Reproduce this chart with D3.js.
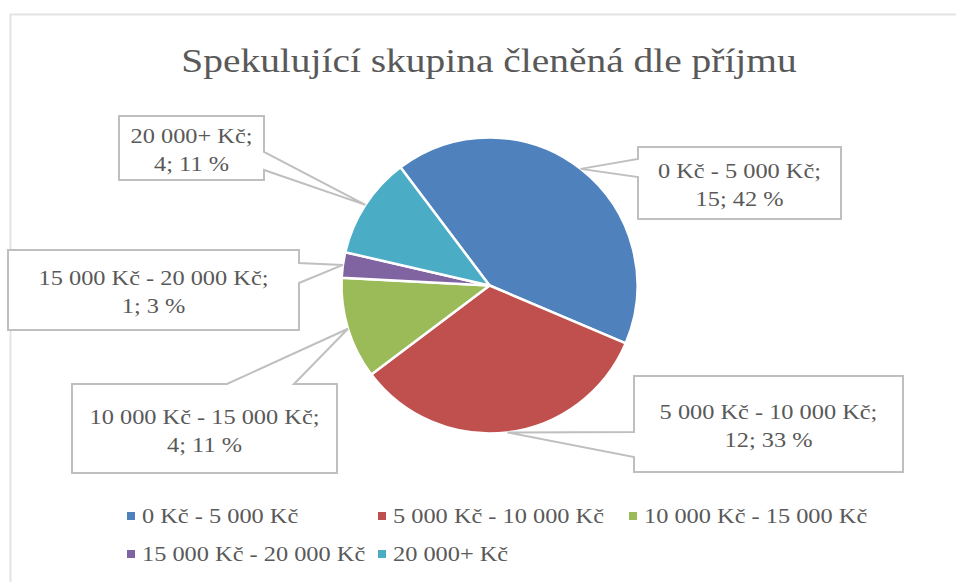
<!DOCTYPE html>
<meta charset="utf-8">
<style>
  body { margin: 0; background: #fff; }
  svg { display: block; }
  text { font-family: "Liberation Serif", serif; fill: #595959; }
  .title { font-size: 34px; text-anchor: middle; }
  .label { font-size: 21px; text-anchor: middle; }
  .legend text { font-size: 21px; }
</style>
<svg width="956" height="582"></svg>
<script src="https://cdn.jsdelivr.net/npm/d3@7"></script>
<script>
  // data
  var categories = ["0 Kč - 5 000 Kč", "5 000 Kč - 10 000 Kč", "10 000 Kč - 15 000 Kč",
    "15 000 Kč - 20 000 Kč", "20 000+ Kč"]
  var counts = [15, 12, 4, 1, 4]
  var colors = ["#4f81bd", "#c0504d", "#9bbb59", "#8064a2", "#4bacc6"]

  var svg = d3.select("svg"),
    width = +svg.attr("width"),
    height = +svg.attr("height")

  // Cambria runs wider than Liberation Serif, so stretch text horizontally
  var sx = 1.16
  function place(x, y) { return "translate(" + x + "," + y + ") scale(" + sx + ",1)" }

  // chart frame
  svg.append("path")
    .attr("d", "M10.5," + height + "V14.5H" + width)
    .attr("fill", "none")
    .attr("stroke", "#e3e3e3")
    .attr("stroke-width", 2)

  svg.append("text")
    .attr("class", "title")
    .attr("transform", place(489, 72))
    .text("Spekulující skupina členěná dle příjmu")

  var cx = 489.5, cy = 285.5, r = 148
  var start = -37 * Math.PI / 180
  var total = d3.sum(counts)
  var rows = categories.map((c, i) => ({ name: c, value: counts[i], color: colors[i] }))

  var pie = d3.pie().sort(null).value(d => d.value)
    .startAngle(start).endAngle(start + 2 * Math.PI)
  var arc = d3.arc().innerRadius(0).outerRadius(r)
  var arcs = pie(rows)

  var g = svg.append("g").attr("transform", "translate(" + cx + "," + cy + ")")
  g.selectAll("path")
    .data(arcs)
    .enter().append("path")
    .attr("d", arc)
    .attr("fill", d => d.data.color)
    .attr("stroke", "#fff")
    .attr("stroke-width", 2.5)
    .attr("stroke-linejoin", "round")

  // callout boxes: [x, y, w, h, side, base offset a, base offset b]
  var boxes = [
    [638, 147, 203, 72, "left", 12, 30],
    [634, 376, 269, 96, "left", 56, 81],
    [72, 384, 265, 89, "top", 155, 222],
    [8, 250, 291, 80, "right", 13, 33],
    [119, 116, 145, 64, "right", 36, 54]
  ]

  function calloutPath(b, tip) {
    var x = b[0], y = b[1], w = b[2], h = b[3], s = b[4], a = b[5], c = b[6]
    var p = d3.path()
    p.moveTo(x, y)
    if (s === "top") { p.lineTo(x + a, y); p.lineTo(tip[0], tip[1]); p.lineTo(x + c, y) }
    p.lineTo(x + w, y)
    if (s === "right") { p.lineTo(x + w, y + a); p.lineTo(tip[0], tip[1]); p.lineTo(x + w, y + c) }
    p.lineTo(x + w, y + h)
    p.lineTo(x, y + h)
    if (s === "left") { p.lineTo(x, y + c); p.lineTo(tip[0], tip[1]); p.lineTo(x, y + a) }
    p.closePath()
    return p.toString()
  }

  var labels = svg.selectAll("g.callout")
    .data(arcs)
    .enter().append("g")
    .attr("class", "callout")

  labels.append("path")
    .attr("d", (d, i) => {
      var m = (d.startAngle + d.endAngle) / 2
      var tip = [cx + r * Math.sin(m), cy - r * Math.cos(m)]
      return calloutPath(boxes[i], tip)
    })
    .attr("fill", "#fff")
    .attr("stroke", "#bfbfbf")
    .attr("stroke-width", 2)

  labels.each(function (d, i) {
    var b = boxes[i]
    var pct = Math.round(d.data.value / total * 100)
    var lines = [d.data.name + ";", d.data.value + "; " + pct + " %"]
    var mid = b[1] + b[3] / 2 + 2
    d3.select(this).selectAll("text")
      .data(lines)
      .enter().append("text")
      .attr("class", "label")
      .attr("transform", (t, j) => place(b[0] + b[2] / 2, mid + (j - 0.5) * 28))
      .attr("dy", "0.35em")
      .text(t => t)
  })

  // legend
  var legendPos = [[127, 516], [378, 516], [629, 516], [127, 554], [378, 554]]
  var legend = svg.append("g").attr("class", "legend")
    .selectAll("g")
    .data(rows)
    .enter().append("g")
    .attr("transform", (d, i) => "translate(" + legendPos[i][0] + "," + legendPos[i][1] + ")")
  legend.append("rect")
    .attr("x", 0).attr("y", -4)
    .attr("width", 8).attr("height", 8)
    .attr("fill", d => d.color)
  legend.append("text")
    .attr("transform", place(15, 0))
    .attr("dy", "0.35em")
    .text(d => d.name)
</script>
